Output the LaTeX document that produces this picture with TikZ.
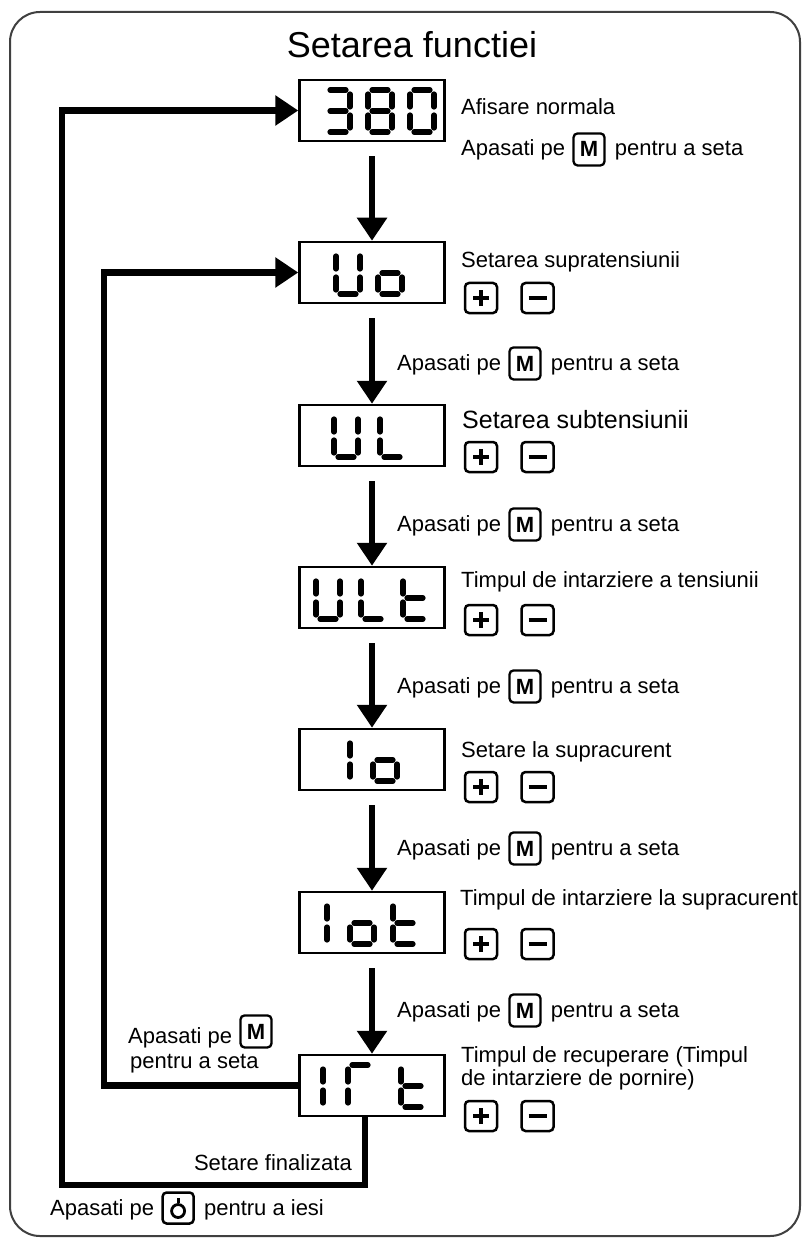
\documentclass[tikz,border=0pt]{standalone}
\usepackage{fontspec}
\setmainfont{Liberation Sans}
\usetikzlibrary{arrows.meta,calc}
\tikzset{
 frame/.style={draw=black!75, line width=2pt, rounded corners=30pt},
 disp/.style={draw, line width=2.5pt, minimum width=145pt, minimum height=61pt, inner sep=0pt},
 flow/.style={line width=6.5pt, -{Triangle[width=29pt,length=23pt]}},
 seg/.style={line width=5.2pt, line cap=round},
 txt/.style={inner sep=0pt, font=\fontsize{22}{26}\selectfont, anchor=base west},
 bigtxt/.style={txt, font=\fontsize{25}{29}\selectfont},
 btn/.style={draw, line width=2.3pt, rounded corners=4pt, minimum width=31pt, minimum height=32pt, inner sep=0pt, font=\fontsize{22}{26}\selectfont\bfseries},
 pmbtn/.style={draw, line width=2.5pt, rounded corners=4pt, minimum width=32pt, minimum height=30pt, inner sep=0pt},
 sym/.style={line width=3.5pt},
}
% seven-segment pieces: #1 = x of left verticals, #2 = top y
\newcommand\sgXa[2]{\draw[seg] (#1+4,#2) -- (#1+20,#2);}
\newcommand\sgXb[2]{\draw[seg] (#1+24,#2+4) -- (#1+24,#2+17);}
\newcommand\sgXc[2]{\draw[seg] (#1+24,#2+25) -- (#1+24,#2+38);}
\newcommand\sgXd[2]{\draw[seg] (#1+4,#2+42) -- (#1+20,#2+42);}
\newcommand\sgXe[2]{\draw[seg] (#1,#2+25) -- (#1,#2+38);}
\newcommand\sgXf[2]{\draw[seg] (#1,#2+4) -- (#1,#2+17);}
\newcommand\sgXg[2]{\draw[seg] (#1+4,#2+21) -- (#1+20,#2+21);}
\newcommand\glyph[3]{\foreach \s in {#3}{\csname sgX\s\endcsname{#1}{#2}}}
\newcommand\pmbtns[2]{%
 \node[pmbtn] (p#1) at (481,#2) {};
 \node[pmbtn] (n#1) at (537.5,#2) {};
 \draw[sym] ([xshift=-8pt]p#1.center) -- ([xshift=8pt]p#1.center)
            ([yshift=-8pt]p#1.center) -- ([yshift=8pt]p#1.center);
 \draw[sym] ([xshift=-9pt]n#1.center) -- ([xshift=9pt]n#1.center);
}
\newcommand\mlabel[3]{%
 \node[txt] (#1a) at (#2,#3) {Apasati pe};
 \node[btn, anchor=base west] (#1m) at ([xshift=7pt,yshift=-1pt]#1a.base east) {M};
 \node[txt] (#1b) at ([xshift=9pt]#1m.east |- #1a.base) {pentru a seta};
}
\begin{document}
\begin{tikzpicture}[x=1pt,y=-1pt]
\useasboundingbox (0,0) rectangle (804,1238);
\draw[frame] (10,12) rectangle (800,1236);
\node[inner sep=0pt, anchor=base, font=\fontsize{36}{40}\selectfont] (title) at (412,58) {Setarea functiei};

% displays
\node[disp] (d380) at (372,110.5) {};
\node[disp] (dUo)  at (372,272.5) {};
\node[disp] (dUL)  at (372,435.5) {};
\node[disp] (dULt) at (372,597.5) {};
\node[disp] (dIo)  at (372,759.5) {};
\node[disp] (dIot) at (372,922.5) {};
\node[disp] (dIRt) at (372,1085.5) {};

% digits
\glyph{326}{90}{a,b,c,d,g}
\glyph{368}{90}{a,b,c,d,e,f,g}
\glyph{410}{90}{a,b,c,d,e,f}
\glyph{336}{252}{b,c,d,e,f}
\glyph{378}{252}{c,d,e,g}
\glyph{334}{415}{b,c,d,e,f}
\glyph{380}{415}{d,e,f}
\glyph{316}{577}{b,c,d,e,f}
\glyph{361}{577}{d,e,f}
\glyph{403}{577}{d,e,f,g}
\glyph{350}{739}{e,f}
\glyph{373}{739}{c,d,e,g}
\glyph{327}{902}{e,f}
\glyph{350}{902}{c,d,e,g}
\glyph{393}{902}{d,e,f,g}
\glyph{323}{1065}{e,f}
\glyph{348}{1065}{a,e,f}
\glyph{401}{1065}{d,e,f,g}

% vertical flow
\draw[flow] ([yshift=-14pt]d380.south) -- (dUo.north);
\draw[flow] ([yshift=-14pt]dUo.south) -- (dUL.north);
\draw[flow] ([yshift=-14pt]dUL.south) -- (dULt.north);
\draw[flow] ([yshift=-14pt]dULt.south) -- (dIo.north);
\draw[flow] ([yshift=-14pt]dIo.south) -- (dIot.north);
\draw[flow] ([yshift=-14pt]dIot.south) -- (dIRt.north);

% loops
\coordinate (ocorner) at (62,1185);
\coordinate (icorner) at (104,1085.5);
\draw[flow] ([xshift=-7pt]dIRt.south) |- (ocorner) |- (d380.west);
\draw[flow] (dIRt.west) -- (icorner) |- (dUo.west);

% right texts
\node[txt] (t0) at (461,115) {Afisare normala};
\mlabel{L0}{461}{156}
\node[txt] (t1) at (461,268) {Setarea supratensiunii};
\pmbtns{1}{298}
\node[bigtxt] (t2) at (462,428) {Setarea subtensiunii};
\pmbtns{2}{457}
\node[txt] (t3) at (461,587) {Timpul de intarziere a tensiunii};
\pmbtns{3}{620}
\node[txt] (t4) at (461,757) {Setare la supracurent};
\pmbtns{4}{787}
\node[txt] (t5) at (460,905) {Timpul de intarziere la supracurent};
\pmbtns{5}{944}
\node[txt] (t6a) at (461,1062) {Timpul de recuperare (Timpul};
\node[txt] (t6b) at (461,1085) {de intarziere de pornire)};
\pmbtns{6}{1116}

% arrow labels
\mlabel{L1}{397}{370}
\mlabel{L2}{397}{531}
\mlabel{L3}{397}{693}
\mlabel{L4}{397}{855}
\mlabel{L5}{397}{1017}

% left loop label
\node[txt] (la) at (128,1043) {Apasati pe};
\node[btn, anchor=base west] (lm) at ([xshift=7pt,yshift=4pt]la.base east) {M};
\node[txt] (lb) at (130,1068) {pentru a seta};

\node[txt, anchor=base east] (sf) at (352,1170) {Setare finalizata};

% exit
\node[txt] (ex) at (50,1215) {Apasati pe};
\node[pmbtn, minimum width=31pt, minimum height=31pt, anchor=west] (pw) at ([xshift=7pt,yshift=7pt]ex.base east) {};
\draw[line width=2.8pt] ([yshift=-3pt]pw.center) circle[radius=6.5pt];
\draw[line width=2.8pt] ([yshift=5pt]pw.center) -- ([yshift=10pt]pw.center);
\node[txt] (exb) at ([xshift=9pt]pw.east |- ex.base) {pentru a iesi};
\end{tikzpicture}
\end{document}
